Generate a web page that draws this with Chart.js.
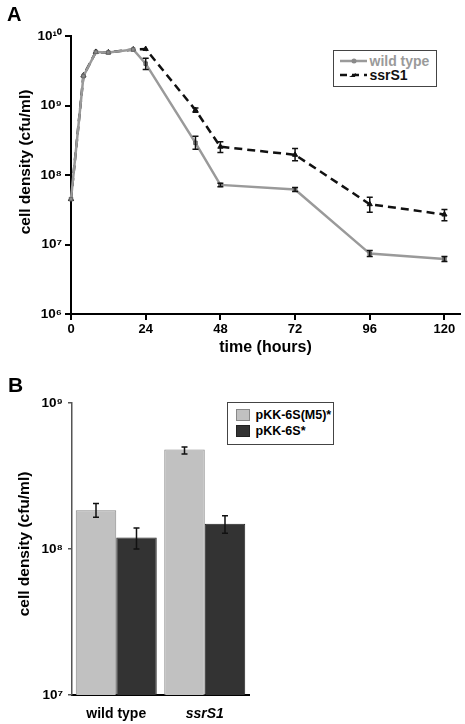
<!DOCTYPE html>
<html>
<head>
<meta charset="utf-8">
<script src="https://cdn.jsdelivr.net/npm/chart.js@4.4.1/dist/chart.umd.min.js"></script>
<style>
    body { margin: 0; background: #fff; font-family: "Liberation Sans", Arial, sans-serif; }
    #wrap { position: relative; width: 465px; height: 724px; overflow: hidden; }
    canvas { position: absolute; left: 0; }
    #chartA { top: 0; }
    #chartB { top: 362px; }
    .pannello { position: absolute; font-weight: bold; line-height: 1; }
    .titoloY { position: absolute; font-weight: bold; font-size: 15.5px; white-space: nowrap; line-height: 1;
               transform: translate(-50%, -50%) rotate(-90deg); }
    .legenda { position: absolute; box-sizing: border-box; border: 1.5px solid #444; background: #fff; font-weight: bold; }
    .riga { display: flex; align-items: center; white-space: nowrap; }
    .riga svg { display: block; }
    .quadrato { box-sizing: border-box; width: 14px; height: 12px; margin-right: 6px; }
</style>
</head>
<body>
<div id="wrap">
    <canvas id="chartA" width="465" height="360"></canvas>
    <canvas id="chartB" width="465" height="362"></canvas>

    <div class="pannello" style="left:7px; top:4px; font-size:20px;">A</div>
    <div class="pannello" style="left:8px; top:374px; font-size:21px;">B</div>

    <div class="titoloY" style="left:25px; top:162px;">cell density (cfu/ml)</div>
    <div class="titoloY" style="left:24px; top:544px;">cell density (cfu/ml)</div>

    <!-- legenda pannello A -->
    <div class="legenda" style="left:333px; top:50px; width:104px; height:37px; padding:3px 0 0 5.5px; font-size:14px;">
        <div class="riga" style="height:14px; color:#9a9a9a;">
            <svg width="30" height="10"><line x1="0" y1="5" x2="27" y2="5" stroke="#9a9a9a" stroke-width="2.5"/><circle cx="14" cy="5" r="2.5" fill="#8a8a8a"/></svg>wild type
        </div>
        <div class="riga" style="height:14px; color:#111;">
            <svg width="30" height="10"><line x1="0" y1="5" x2="27" y2="5" stroke="#111" stroke-width="2.5" stroke-dasharray="7,5"/><polygon points="9,7 16,3 15,7" fill="#111"/></svg>ssrS1
        </div>
    </div>

    <!-- legenda pannello B -->
    <div class="legenda" style="left:227px; top:402px; width:107px; height:43px; padding:4px 0 0 7.5px; font-size:12.5px;">
        <div class="riga" style="height:16px;"><div class="quadrato" style="background:#c1c1c1; border:1px solid #888;"></div>pKK-6S(M5)*</div>
        <div class="riga" style="height:16px;"><div class="quadrato" style="background:#333; border:1px solid #222;"></div>pKK-6S*</div>
    </div>
</div>

<script>
// dati pannello A (crescita nel tempo)
var tempi = [0, 4, 8, 12, 20, 24, 40, 48, 72, 96, 120];
var wildType = [4.5e7, 2.65e9, 5.9e9, 5.8e9, 6.4e9, 4.0e9, 2.9e8, 7.2e7, 6.2e7, 7.4e6, 6.2e6];
var wildTypeAlto = [null, null, null, null, null, 4.8e9, 3.6e8, 7.6e7, 6.6e7, 8.2e6, 6.7e6];
var wildTypeBasso = [null, null, null, null, null, 3.3e9, 2.35e8, 6.8e7, 5.8e7, 6.7e6, 5.7e6];
var ssrS1 = [4.5e7, 2.7e9, 5.9e9, 5.8e9, 6.4e9, 6.5e9, 8.6e8, 2.55e8, 1.95e8, 3.8e7, 2.7e7];
var ssrS1Alto = [null, null, null, null, null, null, 9.2e8, 3.0e8, 2.4e8, 4.8e7, 3.2e7];
var ssrS1Basso = [null, null, null, null, null, null, 8.0e8, 2.1e8, 1.6e8, 2.9e7, 2.2e7];
var tickTempi = [0, 24, 48, 72, 96, 120];
var tickDensitaA = [1e6, 1e7, 1e8, 1e9, 1e10];
var etichetteDensitaA = ['10⁶', '10⁷', '10⁸', '10⁹', '10¹⁰'];

// dati pannello B (barre)
var ceppi = ['wild type', 'ssrS1'];
var pkkM5 = [1.84e8, 4.8e8];
var pkkM5Alto = [2.05e8, 5.0e8];
var pkkM5Basso = [1.65e8, 4.48e8];
var pkk6S = [1.2e8, 1.49e8];
var pkk6SAlto = [1.39e8, 1.69e8];
var pkk6SBasso = [1.0e8, 1.28e8];
var tickDensitaB = [1e7, 1e8, 1e9];
var etichetteDensitaB = ['10⁷', '10⁸', '10⁹'];

var FONT = '"Liberation Sans", Arial, sans-serif';

var pluginErrori = {     // disegna le barre di errore leggendo i valori dal dataset
    id: 'barreErrore',
    afterDatasetsDraw: function (chart) {
        var ctx = chart.ctx;
        chart.data.datasets.forEach(function (ds, i) {
            if (!ds.erroreAlto) return;
            var meta = chart.getDatasetMeta(i);
            var scalaY = chart.scales[meta.yAxisID];
            ctx.save();
            ctx.strokeStyle = '#111';
            ctx.lineWidth = 1.5;
            meta.data.forEach(function (el, j) {
                if (ds.erroreAlto[j] == null) return;
                var yAlto = scalaY.getPixelForValue(ds.erroreAlto[j]);
                var yBasso = scalaY.getPixelForValue(ds.erroreBasso[j]);
                ctx.beginPath();
                ctx.moveTo(el.x, yAlto); ctx.lineTo(el.x, yBasso);
                ctx.moveTo(el.x - 3, yAlto); ctx.lineTo(el.x + 3, yAlto);
                ctx.moveTo(el.x - 3, yBasso); ctx.lineTo(el.x + 3, yBasso);
                ctx.stroke();
            });
            ctx.restore();
        });
    }
};

function punti(xs, ys) {     // coppie x/y per lo scatter a linee
    return xs.map(function (x, i) { return { x: x, y: ys[i] }; });
}

new Chart(document.getElementById('chartA'), {
    type: 'line',
    data: {
        datasets: [{
            label: 'wild type',
            data: punti(tempi, wildType),
            erroreAlto: wildTypeAlto,
            erroreBasso: wildTypeBasso,
            borderColor: '#9a9a9a',
            borderWidth: 2.5,
            pointStyle: 'rect',
            pointRadius: 2.5,
            pointBackgroundColor: '#8a8a8a',
            pointBorderColor: '#666',
            pointBorderWidth: 1,
            tension: 0,
            clip: false
        }, {
            label: 'ssrS1',
            data: punti(tempi, ssrS1),
            erroreAlto: ssrS1Alto,
            erroreBasso: ssrS1Basso,
            borderColor: '#111',
            borderWidth: 2.5,
            borderDash: [8, 5],
            pointStyle: 'triangle',
            pointRadius: 3,
            pointBackgroundColor: '#111',
            pointBorderColor: '#111',
            pointBorderWidth: 1,
            tension: 0,
            clip: false
        }]
    },
    options: {
        responsive: false,
        animation: false,
        layout: { padding: { left: 0, top: 36, right: 3, bottom: 0 } },
        plugins: { legend: { display: false }, tooltip: { enabled: false } },
        scales: {
            x: {
                type: 'linear',
                min: 0,
                max: 125,
                afterBuildTicks: function (scale) { scale.ticks = tickTempi.map(function (v) { return { value: v }; }); },
                afterFit: function (scale) { scale.height = 46; },
                grid: { drawOnChartArea: false, drawTicks: true, tickLength: 6, color: '#000', lineWidth: 2 },
                border: { display: true, color: '#000', width: 2 },
                ticks: { autoSkip: false, maxRotation: 0, padding: 2, color: '#000',
                         font: { family: FONT, size: 13, weight: 'bold' },
                         callback: function (v) { return String(v); } },
                title: { display: true, text: 'time (hours)', color: '#000',
                         font: { family: FONT, size: 16, weight: 'bold' }, padding: { top: 0, bottom: 3 } }
            },
            y: {
                type: 'logarithmic',
                min: 1e6,
                max: 1e10,
                afterBuildTicks: function (scale) { scale.ticks = tickDensitaA.map(function (v) { return { value: v }; }); },
                afterFit: function (scale) { scale.width = 71; },
                grid: { drawOnChartArea: false, drawTicks: true, tickLength: 6, color: '#000', lineWidth: 2 },
                border: { display: true, color: '#000', width: 2 },
                ticks: { autoSkip: false, padding: 3, color: '#000',
                         font: { family: FONT, size: 13.5, weight: 'bold' },
                         callback: function (v, i) { return etichetteDensitaA[i]; } }
            }
        }
    },
    plugins: [pluginErrori]
});

new Chart(document.getElementById('chartB'), {
    type: 'bar',
    data: {
        labels: ceppi,
        datasets: [{
            label: 'pKK-6S(M5)*',
            data: pkkM5,
            erroreAlto: pkkM5Alto,
            erroreBasso: pkkM5Basso,
            backgroundColor: '#c1c1c1',
            borderColor: '#888',
            borderWidth: 1,
            categoryPercentage: 0.915,
            barPercentage: 1.0
        }, {
            label: 'pKK-6S*',
            data: pkk6S,
            erroreAlto: pkk6SAlto,
            erroreBasso: pkk6SBasso,
            backgroundColor: '#333',
            borderColor: '#222',
            borderWidth: 1,
            categoryPercentage: 0.915,
            barPercentage: 1.0
        }]
    },
    options: {
        responsive: false,
        animation: false,
        layout: { padding: { left: 0, top: 41, right: 216, bottom: 0 } },
        plugins: { legend: { display: false }, tooltip: { enabled: false } },
        scales: {
            x: {
                afterFit: function (scale) { scale.height = 29; },
                grid: { display: false },
                border: { display: true, color: '#000', width: 2 },
                ticks: { padding: 3, color: '#000',
                         font: function (c) { return { family: FONT, size: 14, weight: 'bold', style: c.index === 1 ? 'italic' : 'normal' }; } }
            },
            y: {
                type: 'logarithmic',
                min: 1e7,
                max: 1e9,
                afterBuildTicks: function (scale) { scale.ticks = tickDensitaB.map(function (v) { return { value: v }; }); },
                afterFit: function (scale) { scale.width = 72; },
                grid: { drawOnChartArea: false, drawTicks: true, tickLength: 4, color: '#555', lineWidth: 1.5 },
                border: { display: true, color: '#555', width: 1.5 },
                ticks: { autoSkip: false, padding: 5, color: '#000',
                         font: { family: FONT, size: 13.5, weight: 'bold' },
                         callback: function (v, i) { return etichetteDensitaB[i]; } }
            }
        }
    },
    plugins: [pluginErrori]
});
</script>
</body>
</html>
